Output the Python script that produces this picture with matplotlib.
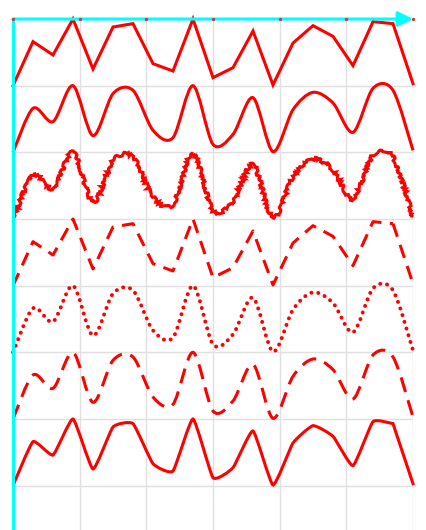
import numpy as np
import matplotlib.pyplot as plt
from matplotlib.path import Path
from matplotlib.patches import PathPatch

# same series drawn seven times, one band per row
values = [0.0, 0.66, 0.46, 1.0, 0.25, 0.88, 0.93, 0.33, 0.22, 1.0, 0.12,
          0.27, 0.82, 0.01, 0.64, 0.90, 0.74, 0.30, 0.96, 0.93, 0.03]
x_step = 30          # data units between points
band = 100           # height of one row
row_styles = ['linear', 'smooth', 'rough', 'dashed', 'dotted', 'smooth-dashed', 'soft']

RED = '#ff0000'
AXIS = '#00ffff'


def row_points(k):
    x = np.arange(len(values)) * x_step
    y = k * band + (1 - np.array(values)) * band
    return np.column_stack([x, y])


def spline_path(pts, tension=1.0):
    # Catmull-Rom segments written as cubic Bezier pieces
    p = np.vstack([pts[0], pts, pts[-1]])
    verts = [pts[0]]
    codes = [Path.MOVETO]
    for i in range(1, len(p) - 2):
        c1 = p[i] + (p[i + 1] - p[i - 1]) / 6 * tension
        c2 = p[i + 1] - (p[i + 2] - p[i]) / 6 * tension
        verts += [c1, c2, p[i + 1]]
        codes += [Path.CURVE4] * 3
    return Path(verts, codes)


fig = plt.figure(figsize=(4.27, 5.30), dpi=100)
ax = fig.add_axes([13 / 427, 0, 400 / 427, 511 / 530])
ax.set_xlim(0, 600)
ax.set_ylim(511 / 400 * 600, 0)

for gx in range(0, 601, 100):
    ax.axvline(gx, color='#e0e0e0', lw=1, zorder=0)
for gy in range(100, 801, 100):
    ax.axhline(gy, color='#e0e0e0', lw=1, zorder=0)

lw = 2.2
for k, style in enumerate(row_styles):
    pts = row_points(k)
    if style == 'linear':
        ax.plot(pts[:, 0], pts[:, 1], color=RED, lw=lw, solid_joinstyle='miter', clip_on=False)
    elif style == 'smooth':
        ax.add_patch(PathPatch(spline_path(pts, 0.9), fill=False, ec=RED, lw=lw, clip_on=False))
    elif style == 'rough':
        patch = PathPatch(spline_path(pts, 0.9), fill=False, ec=RED, lw=lw, clip_on=False)
        patch.set_sketch_params(scale=1.6, length=5, randomness=20)
        ax.add_patch(patch)
    elif style == 'dashed':
        ax.plot(pts[:-1, 0], pts[:-1, 1], color=RED, lw=lw, dashes=(4.5, 2.8), clip_on=False)
        ax.plot(pts[-2:, 0], pts[-2:, 1], color=RED, lw=lw, dashes=(4.5, 2.8), clip_on=False)
    elif style == 'dotted':
        ax.add_patch(PathPatch(spline_path(pts, 0.9), fill=False, ec=RED, lw=2.8,
                               linestyle=(0, (0.05, 1.75)), capstyle='round', clip_on=False))
    elif style == 'smooth-dashed':
        ax.add_patch(PathPatch(spline_path(pts, 0.9), fill=False, ec=RED, lw=lw,
                               linestyle=(0, (5, 2.8)), clip_on=False))
    elif style == 'soft':
        ax.add_patch(PathPatch(spline_path(pts[:-1], tension=0.45), fill=False, ec=RED, lw=lw,
                               clip_on=False))
        ax.plot(pts[-2:, 0], pts[-2:, 1], color=RED, lw=lw, clip_on=False)

for s in ax.spines.values():
    s.set_visible(False)
ax.set_xticks([])
ax.set_yticks([])
ax.plot([0, 0], [0, 511 / 400 * 600], color=AXIS, lw=2.2, clip_on=False, zorder=5)
ax.annotate('', xy=(600, 0), xytext=(0, 0), zorder=5,
            arrowprops=dict(arrowstyle='-|>,head_length=0.9,head_width=0.45',
                            color=AXIS, lw=2.2, shrinkA=0, shrinkB=0),
            annotation_clip=False)
ax.scatter(range(0, 601, 100), [0] * 7, s=2, color='#c04040', zorder=6, clip_on=False)

fig.savefig('out.png', dpi=100)
